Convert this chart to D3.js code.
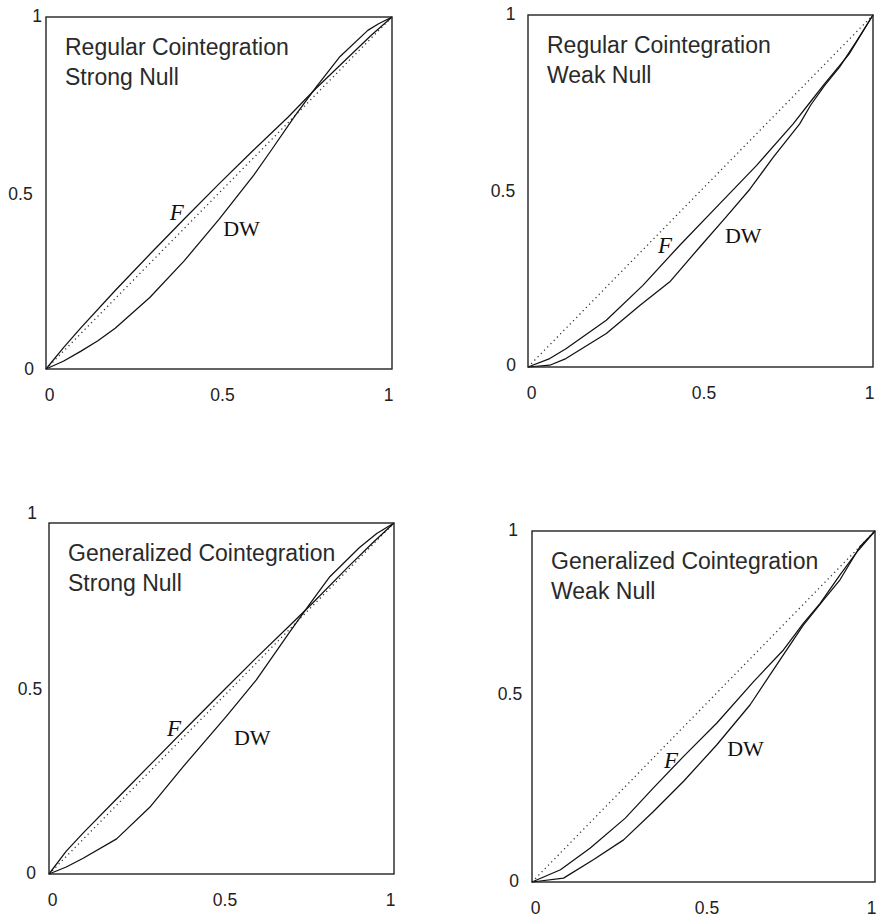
<!DOCTYPE html>
<html>
<head>
<meta charset="utf-8">
<script src="https://cdn.jsdelivr.net/npm/d3@7/dist/d3.min.js"></script>
<style>
  html, body { margin: 0; padding: 0; background: #fff; }
  svg { display: block; }
</style>
</head>
<body>
<svg id="chart" width="876" height="923"></svg>
<script>
// ---------- data ----------
const tickValues = [0, 0.5, 1];
const tickLabels = ["0", "0.5", "1"];

const panelTitles = [
  ["Regular Cointegration", "Strong Null"],
  ["Regular Cointegration", "Weak Null"],
  ["Generalized Cointegration", "Strong Null"],
  ["Generalized Cointegration", "Weak Null"]
];

const seriesNames = ["F", "DW"];

// Regular cointegration, strong null
const regStrongF = [[0,0],[0.05,0.06],[0.1,0.116],[0.2,0.223],[0.3,0.326],[0.4,0.427],[0.5,0.526],[0.6,0.622],[0.7,0.716],[0.78,0.797],[0.87,0.882],[0.94,0.948],[1,1]];
const regStrongDW = [[0,0],[0.05,0.022],[0.1,0.05],[0.15,0.08],[0.2,0.116],[0.3,0.203],[0.4,0.308],[0.5,0.425],[0.6,0.55],[0.65,0.62],[0.72,0.72],[0.78,0.8],[0.85,0.888],[0.93,0.962],[0.96,0.98],[1,1]];

// Regular cointegration, weak null
const regWeakF = [[0,0],[0.063,0.024],[0.11,0.052],[0.227,0.133],[0.333,0.232],[0.44,0.346],[0.556,0.464],[0.662,0.572],[0.768,0.69],[0.82,0.755],[0.86,0.805],[0.93,0.888],[1,1]];
const regWeakDW = [[0,0],[0.063,0.005],[0.11,0.024],[0.227,0.095],[0.324,0.175],[0.411,0.242],[0.498,0.341],[0.575,0.427],[0.643,0.505],[0.71,0.595],[0.787,0.69],[0.82,0.745],[0.86,0.8],[0.903,0.852],[0.952,0.925],[1,1]];

// Generalized cointegration, strong null
const genStrongF = [[0,0],[0.05,0.065],[0.1,0.118],[0.2,0.218],[0.3,0.318],[0.4,0.418],[0.5,0.517],[0.6,0.615],[0.7,0.71],[0.76,0.768],[0.87,0.878],[0.94,0.945],[1,1]];
const genStrongDW = [[0,0],[0.05,0.02],[0.099,0.045],[0.196,0.1],[0.292,0.19],[0.389,0.306],[0.514,0.449],[0.601,0.553],[0.698,0.69],[0.755,0.768],[0.814,0.847],[0.9,0.93],[0.95,0.97],[1,1]];

// Generalized cointegration, weak null
const genWeakF = [[0,0],[0.083,0.035],[0.17,0.097],[0.272,0.182],[0.354,0.268],[0.442,0.358],[0.539,0.453],[0.646,0.571],[0.733,0.661],[0.791,0.737],[0.84,0.794],[0.898,0.875],[0.947,0.94],[1,1]];
const genWeakDW = [[0,0],[0.092,0.011],[0.18,0.064],[0.267,0.12],[0.354,0.201],[0.442,0.287],[0.539,0.391],[0.636,0.505],[0.723,0.633],[0.791,0.732],[0.85,0.804],[0.898,0.861],[0.956,0.955],[1,1]];

const diagonal = [[0,0],[1,1]];

// label anchor positions in data units (F, DW)
const labelSpots = [
  [[0.358,0.423],[0.512,0.378]],
  [[0.377,0.324],[0.571,0.352]],
  [[0.342,0.393],[0.536,0.368]],
  [[0.385,0.325],[0.569,0.359]]
];

const panelSeries = [
  [regStrongF, regStrongDW],
  [regWeakF, regWeakDW],
  [genStrongF, genStrongDW],
  [genWeakF, genWeakDW]
];

// ---------- layout ----------
const layout = [
  {box:[46,17,392,369],  yDx:[-17,-25.5,-9],  yDy:[-1,0,-2]},
  {box:[528,15,873,367], yDx:[-17,-25,-17.5], yDy:[-3,-1,-2]},
  {box:[49,523,394,874], yDx:[-18,-19,-17],   yDy:[-2,-10,-11]},
  {box:[532,531,875,882],yDx:[-18,-22,-19],   yDy:[-2,-13,-2]}
];
const xDx = [3, 3, -4];

const svg = d3.select("#chart");
const sans = "'Liberation Sans', Arial, sans-serif";
const serif = "'Liberation Serif', 'Times New Roman', serif";

layout.forEach((L, p) => {
  const [x0, y0, x1, y1] = L.box;
  const x = d3.scaleLinear().domain([0,1]).range([x0, x1]);
  const y = d3.scaleLinear().domain([0,1]).range([y1, y0]);
  const g = svg.append("g");

  const line = d3.line().x(d => x(d[0])).y(d => y(d[1]));

  // dotted diagonal
  g.append("path").attr("d", line(diagonal))
    .attr("fill","none").attr("stroke","#333").attr("stroke-width",1.3)
    .attr("stroke-dasharray","1.2 3.4");

  // curves
  panelSeries[p].forEach(s => {
    g.append("path").attr("d", line(s))
      .attr("fill","none").attr("stroke","#111").attr("stroke-width",1.25)
      .attr("stroke-linejoin","round");
  });

  // frame
  g.append("rect").attr("x",x0).attr("y",y0).attr("width",x1-x0).attr("height",y1-y0)
    .attr("fill","none").attr("stroke","#222").attr("stroke-width",1.4);

  // x axis
  const ax = g.append("g").attr("transform",`translate(0,${y1})`)
    .call(d3.axisBottom(x).tickValues(tickValues).tickFormat((d,i)=>tickLabels[i]).tickSize(0));
  ax.select(".domain").remove();
  ax.selectAll("text")
    .attr("font-family", sans).attr("font-size", 17.5).attr("fill","#222")
    .attr("x", (d,i) => xDx[i]).attr("y", 26).attr("dy","0.35em")
    .attr("text-anchor","middle");

  // y axis
  const ay = g.append("g").attr("transform",`translate(${x0},0)`)
    .call(d3.axisLeft(y).tickValues(tickValues).tickFormat((d,i)=>tickLabels[i]).tickSize(0));
  ay.select(".domain").remove();
  ay.selectAll("text")
    .attr("font-family", sans).attr("font-size", 17.5).attr("fill","#222")
    .attr("x", (d,i) => L.yDx[i]).attr("y", (d,i) => L.yDy[i]).attr("dy","0.35em")
    .attr("text-anchor","middle");

  // titles
  panelTitles[p].forEach((t, i) => {
    g.append("text").attr("x", x0 + 19).attr("y", y0 + 38 + i*30)
      .attr("font-family", sans).attr("font-size", 23).attr("fill","#2a2a2a")
      .text(t);
  });

  // curve labels
  seriesNames.forEach((n, i) => {
    const [lx, ly] = labelSpots[p][i];
    g.append("text").attr("x", x(lx)).attr("y", y(ly))
      .attr("font-family", serif).attr("font-size", i === 0 ? 23 : 22)
      .attr("font-style", i === 0 ? "italic" : "normal")
      .attr("fill","#111").text(n);
  });
});
</script>
</body>
</html>
